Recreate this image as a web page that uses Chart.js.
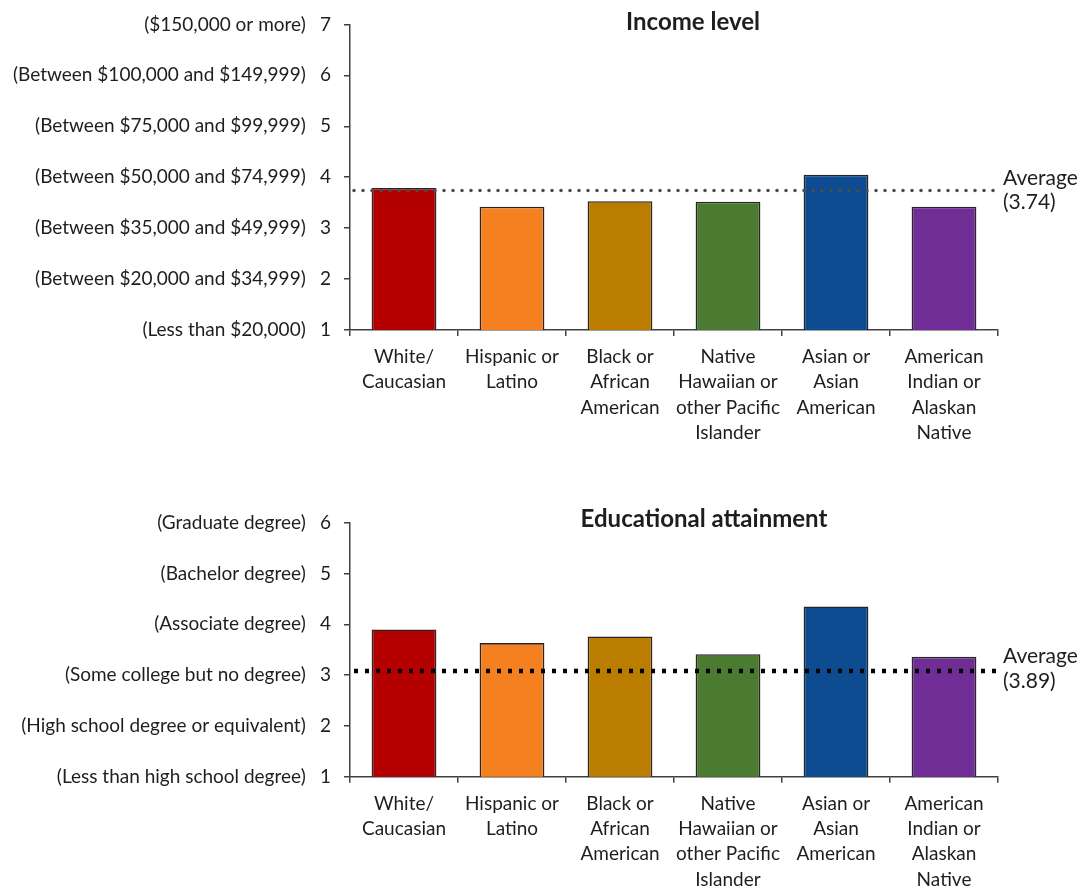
<!DOCTYPE html>
<html>
<head>
<meta charset="utf-8">
<script src="https://cdn.jsdelivr.net/npm/chart.js@4/dist/chart.umd.min.js"></script>
<style>
  html, body { margin: 0; padding: 0; background: #ffffff; }
  #wrap { position: relative; width: 1079px; height: 888px; overflow: hidden; }
  canvas { position: absolute; left: 0; }
  #c1 { top: 0; }
  #c2 { top: 450px; }
</style>
</head>
<body>
<div id="wrap">
  <canvas id="c1" width="1079" height="450"></canvas>
  <canvas id="c2" width="1079" height="438"></canvas>
</div>
<script>
// ---------- DATA ----------
const categories = [
  ["White/", "Caucasian"],
  ["Hispanic or", "Latino"],
  ["Black or", "African", "American"],
  ["Native", "Hawaiian or", "other Pacific", "Islander"],
  ["Asian or", "Asian", "American"],
  ["American", "Indian or", "Alaskan", "Native"]
];
const barColors = ["#B40000", "#F58020", "#BB7D00", "#4B7B30", "#0E4C92", "#702D96"];

const incomeTitle = "Income level";
const incomeValues = [3.79, 3.42, 3.53, 3.52, 4.05, 3.42];
const incomeTickLabels = [
  "(Less than $20,000)",
  "(Between $20,000 and $34,999)",
  "(Between $35,000 and $49,999)",
  "(Between $50,000 and $74,999)",
  "(Between $75,000 and $99,999)",
  "(Between $100,000 and $149,999)",
  "($150,000 or more)"
];
const incomeAverageLabel = "3.74";
const incomeAverageDrawnAt = 3.74;

const eduTitle = "Educational attainment";
const eduValues = [3.90, 3.63, 3.76, 3.41, 4.35, 3.36];
const eduTickLabels = [
  "(Less than high school degree)",
  "(High school degree or equivalent)",
  "(Some college but no degree)",
  "(Associate degree)",
  "(Bachelor degree)",
  "(Graduate degree)"
];
const eduAverageLabel = "3.89";
const eduAverageDrawnAt = 3.08;

// ---------- STYLE ----------
const FONT = "Lato";
const TEXT = "#1e1e1e";
const AXIS = "#404040";
Chart.defaults.font.family = FONT;
Chart.defaults.font.size = 19;
Chart.defaults.color = TEXT;

const extrasPlugin = {
  id: "extras",
  afterDatasetsDraw(chart, args, o) {
    const ctx = chart.ctx;
    const ca = chart.chartArea;
    const y = chart.scales.y.getPixelForValue(o.avgValue);
    ctx.save();
    ctx.beginPath();
    ctx.strokeStyle = o.dotColor;
    ctx.lineWidth = o.dotWidth;
    ctx.lineCap = o.cap;
    ctx.setLineDash(o.dash);
    ctx.moveTo(ca.left + 4, y);
    ctx.lineTo(ca.right - 1, y);
    ctx.stroke();
    ctx.setLineDash([]);
    ctx.fillStyle = TEXT;
    ctx.font = "21px " + FONT;
    ctx.textAlign = "left";
    ctx.textBaseline = "middle";
    ctx.fillText("Average", ca.right + 5, y + o.lab1);
    ctx.fillText("(" + o.avgLabel + ")", ca.right + 5, y + o.lab2);
    ctx.font = "bold 24px " + FONT;
    ctx.textAlign = "center";
    ctx.fillText(o.title, o.titleX, o.titleY);
    ctx.restore();
  }
};

function makeChart(id, values, tickLabels, yMax, xAxisHeight, padTop, extras) {
  return new Chart(document.getElementById(id), {
    type: "bar",
    data: {
      labels: categories,
      datasets: [{
        data: values,
        backgroundColor: barColors,
        borderColor: "#262626",
        borderWidth: 1.6,
        borderSkipped: false,
        barPercentage: 0.6,
        categoryPercentage: 1.0
      }]
    },
    options: {
      responsive: false,
      animation: false,
      events: [],
      layout: { padding: { left: 0, right: 81, top: padTop, bottom: 0 } },
      plugins: {
        legend: { display: false },
        tooltip: { enabled: false },
        extras: extras
      },
      scales: {
        x: {
          grid: { display: true, drawOnChartArea: false, drawTicks: true, tickLength: 6, color: AXIS, lineWidth: 1.5, offset: true },
          border: { display: true, color: AXIS, width: 1.5 },
          ticks: { color: TEXT, font: { size: 19, lineHeight: 1.34 }, padding: 8, maxRotation: 0, autoSkip: false },
          afterFit(scale) { scale.height = xAxisHeight; }
        },
        y: {
          min: 1, max: yMax,
          grid: { display: true, drawOnChartArea: false, drawTicks: true, tickLength: 6, color: AXIS, lineWidth: 1.5 },
          border: { display: true, color: AXIS, width: 1.5 },
          ticks: {
            stepSize: 1, color: TEXT, font: { size: 19 }, padding: 13,
            callback(v) { return tickLabels[v - 1] + "\u2003" + v; }
          },
          afterFit(scale) { scale.width = 350; }
        }
      }
    },
    plugins: [extrasPlugin]
  });
}

makeChart("c1", incomeValues, incomeTickLabels, 7, 120, 22.7, {
  title: incomeTitle, titleX: 693, titleY: 22,
  avgValue: incomeAverageDrawnAt, avgLabel: incomeAverageLabel,
  dotColor: "#4d4d4d", dotWidth: 3.6, cap: "round", dash: [0, 9],
  lab1: -12, lab2: 12
});
makeChart("c2", eduValues, eduTickLabels, 6, 111.3, 72.7, {
  title: eduTitle, titleX: 704, titleY: 69,
  avgValue: eduAverageDrawnAt, avgLabel: eduAverageLabel,
  dotColor: "#000000", dotWidth: 4.5, cap: "butt", dash: [4, 7],
  lab1: -15, lab2: 10
});
</script>
</body>
</html>
